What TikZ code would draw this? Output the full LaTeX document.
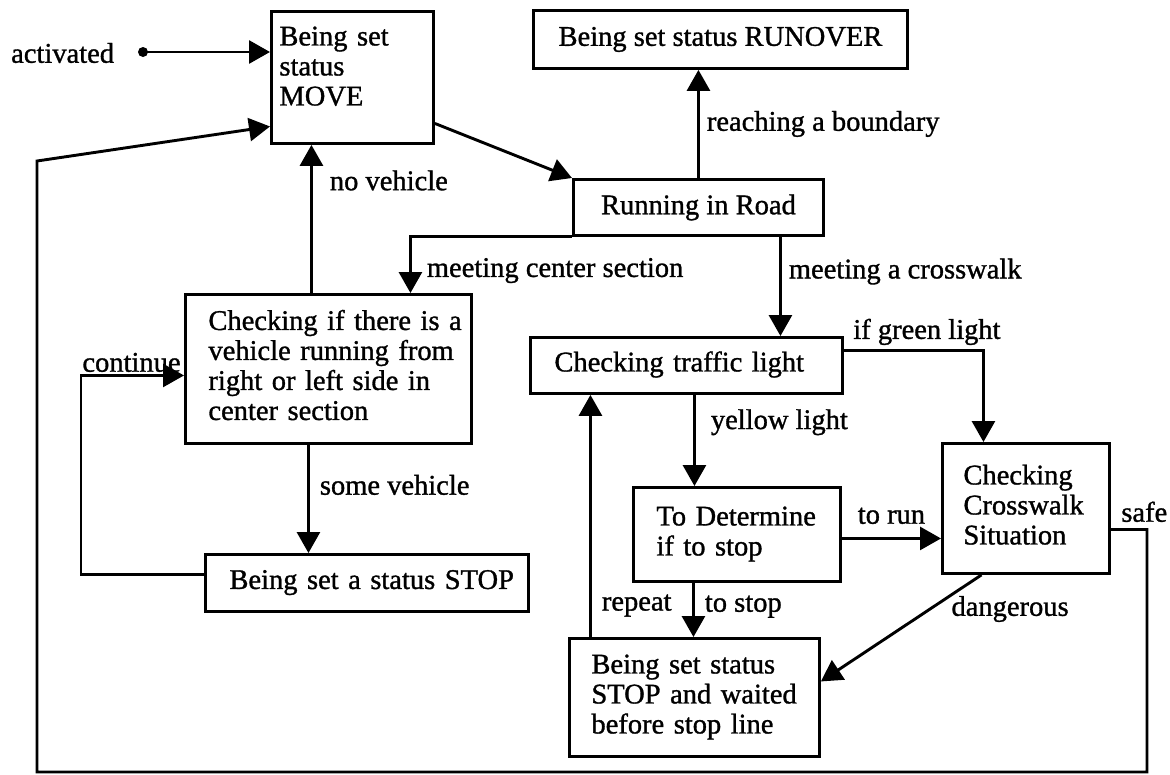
\documentclass[tikz,border=0pt]{standalone}
\usepackage{fontspec}
\setmainfont{Liberation Serif}[FakeBold=1.1]
\usetikzlibrary{arrows.meta}
% rows of a state label, kept on their own lines
\newcommand{\statelines}[1]{\begin{tabular}{@{}l@{}}#1\end{tabular}}
\begin{document}
\begin{tikzpicture}[x=1pt,y=-1pt,
  every node/.style={font=\fontsize{28.5}{30}\selectfont},
  box/.style={draw, line width=2.9pt, anchor=north west, inner ysep=0pt, align=left},
  arr/.style={line width=2.9pt, -{Triangle[length=21pt,width=23pt]}},
  lbl/.style={inner sep=1pt}]
\useasboundingbox (0,0) rectangle (1170,774);

% states
\node[box, minimum width=162pt, minimum height=132pt, inner xsep=8pt, text width=146pt]
  (move) at (270,10) {\raisebox{8pt}[\height][\depth]{\statelines{Being set\\status\\MOVE}}};
\node[box, align=center, minimum width=374pt, minimum height=58pt]
  (runover) at (532,9) {Being set status RUNOVER};
\node[box, align=center, minimum width=250pt, minimum height=56pt]
  (road) at (572,178) {Running in Road};
\node[box, minimum width=286pt, minimum height=149pt, inner xsep=23pt, text width=240pt]
  (veh) at (184,293) {\statelines{Checking if there is a\\vehicle running from\\right or left side in\\center section}};
\node[box, minimum width=323pt, minimum height=57pt, inner xsep=24pt, text width=275pt]
  (stopa) at (204,553) {\statelines{Being set a status STOP}};
\node[box, minimum width=312pt, minimum height=56pt, inner xsep=24pt, text width=264pt]
  (traffic) at (529,336) {\statelines{Checking traffic light}};
\node[box, minimum width=207pt, minimum height=94pt, inner xsep=23pt, text width=161pt]
  (determine) at (632,486) {\statelines{To Determine\\if to stop}};
\node[box, minimum width=167pt, minimum height=130pt, inner xsep=21pt, text width=125pt]
  (crosswalk) at (941,442) {\statelines{Checking\\Crosswalk\\Situation}};
\node[box, minimum width=250pt, minimum height=118pt, inner xsep=22pt, text width=206pt]
  (stopwait) at (568,637) {\statelines{Being set status\\STOP and waited\\before stop line}};

% initial transition
\node[lbl, anchor=west] (act) at (10,53) {activated};
\coordinate (start) at (143,52);
\draw[arr] (start) -- (start -| move.west);
\fill (start) circle (5);

% transitions
\draw[arr] ([yshift=-46pt]move.east) -- (road.north west);

\draw[arr] (road.north) -- (road.north |- runover.south)
  node[lbl, midway, right, xshift=6pt] (lreach) {reaching a boundary};

\draw[arr] (road.south west) -| ([xshift=82pt]veh.north)
  node[lbl, pos=0.8, right, xshift=14pt] (lcenter) {meeting center section};

\draw[arr] ([xshift=82pt]road.south) -- ([xshift=82pt]road.south |- traffic.north)
  node[lbl, pos=0.35, right, xshift=6pt] (lcross) {meeting a crosswalk};

\draw[arr] ([yshift=15pt]traffic.east)
  node[lbl, anchor=south west, xshift=7pt, yshift=3pt] (lgreen) {if green light}
  -| ([xshift=-42.5pt]crosswalk.north);

\draw[arr] ([xshift=8pt]traffic.south) -- ([xshift=8pt]traffic.south |- determine.north)
  node[lbl, pos=0.3, right, xshift=14pt] (lyellow) {yellow light};

\draw[arr] ([yshift=-4pt]determine.east) -- ([yshift=-4pt]determine.east -| crosswalk.west)
  node[lbl, midway, above, yshift=12pt] (lrun) {to run};

\draw[arr] ([xshift=-43.5pt]determine.south) -- ([xshift=-43.5pt]determine.south |- stopwait.north)
  node[lbl, pos=0.44, right, xshift=9pt] (lstop) {to stop};

\draw[arr] ([xshift=-104pt]stopwait.north) -- ([xshift=-104pt]stopwait.north |- traffic.south)
  node[lbl, pos=0.13, right, xshift=9pt] (lrepeat) {repeat};

\draw[arr] ([xshift=-44.5pt]crosswalk.south) -- ([yshift=16pt]stopwait.east)
  node[lbl, pos=0.32, anchor=west, xshift=19pt] (ldanger) {dangerous};

\coordinate (sr) at (1147,772);
\coordinate (sl) at (37,772);
\coordinate (tl) at (37,161);
\draw[arr] ([yshift=-21pt]crosswalk.east)
  node[lbl, anchor=south west, xshift=8pt, yshift=5pt] (lsafe) {safe}
  -| (sr) -- (sl) -- (tl) -- ([yshift=-49pt]move.west);

\draw[arr] ([xshift=-17pt]veh.north) -- ([xshift=-17pt]veh.north |- move.south)
  node[lbl, pos=0.76, right, xshift=16pt] (lnoveh) {no vehicle};

\draw[arr] ([xshift=-20pt]veh.south) -- ([xshift=-20pt]veh.south |- stopa.north)
  node[lbl, pos=0.37, right, xshift=9pt] (lsome) {some vehicle};

\draw[arr] ([yshift=8.5pt]stopa.west) -- ++(-123,0) |- ([yshift=-6.5pt]veh.west)
  node[lbl, pos=0.5, anchor=south west, inner sep=0pt, yshift=2pt] (lcont) {continue};
\end{tikzpicture}
\end{document}
